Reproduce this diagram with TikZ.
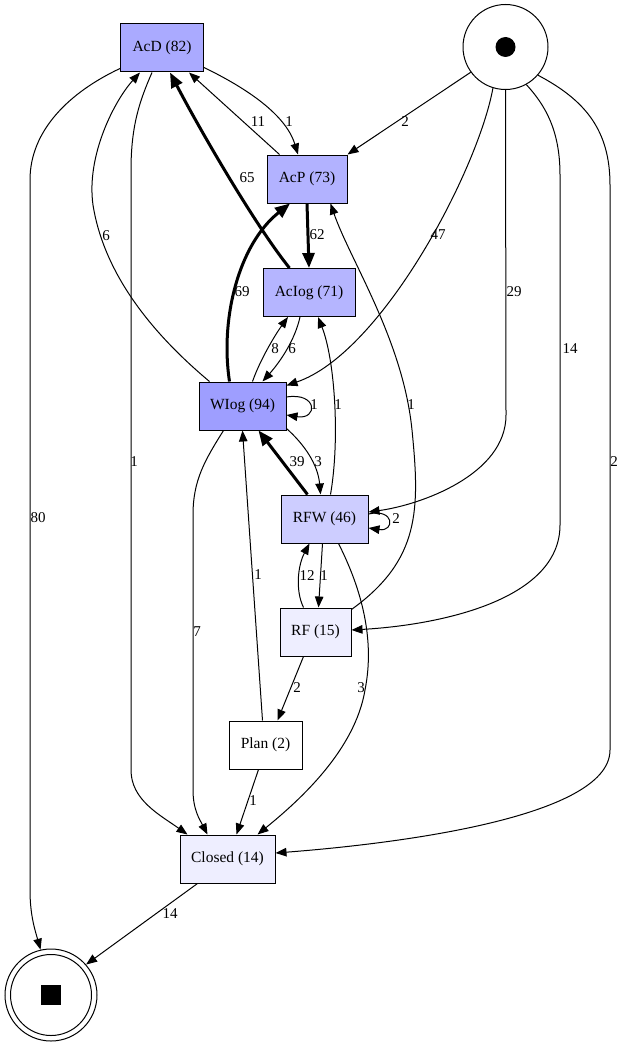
\documentclass[tikz,border=0pt]{standalone}
\usepackage{fontspec}
\setmainfont{Liberation Serif}
\usetikzlibrary{arrows.meta}
\definecolor{cAcD}{RGB}{170,170,255}
\definecolor{cAcP}{RGB}{178,178,255}
\definecolor{cAcIog}{RGB}{181,181,255}
\definecolor{cWIog}{RGB}{158,158,255}
\definecolor{cRFW}{RGB}{205,205,255}
\definecolor{cRF}{RGB}{238,238,255}
\definecolor{cClosed}{RGB}{238,238,255}
\begin{document}
\begin{tikzpicture}[x=1pt,y=-1pt,
  every node/.style={font=\fontsize{15.5}{18}\selectfont},
  act/.style={draw, rectangle, line width=1pt, inner sep=0pt, minimum height=48pt},
  flow/.style={line width=1pt, -{Triangle[length=11pt,width=8.5pt]}},
  heavyflow/.style={line width=3pt, -{Triangle[length=15pt,width=12pt]}},
  lab/.style={inner sep=0pt, font=\fontsize{15}{18}\selectfont},
]
\useasboundingbox (0,0) rectangle (626,1046);

% activities
\node[act, fill=cAcD, minimum width=83pt] (acd) at (162,48) {AcD (82)};
\node[act, fill=cAcP, minimum width=80pt] (acp) at (307,179) {AcP (73)};
\node[act, fill=cAcIog, minimum width=92pt] (aciog) at (309,292.5) {AcIog (71)};
\node[act, fill=cWIog, minimum width=87pt] (wiog) at (242.5,406) {WIog (94)};
\node[act, fill=cRFW, minimum width=87pt] (rfw) at (324.5,519) {RFW (46)};
\node[act, fill=cRF, minimum width=71pt] (rf) at (315.5,632) {RF (15)};
\node[act, fill=white, minimum width=73pt] (plan) at (265.5,745) {Plan (2)};
\node[act, fill=cClosed, minimum width=95pt] (closed) at (227.5,859) {Closed (14)};

% start and end
\node[draw, circle, line width=1pt, minimum size=85pt, inner sep=0pt] (start) at (505.5,47) {};
\node[circle, fill=black, minimum size=20pt, inner sep=0pt] (startdot) at (start.center) {};
\node[draw, circle, line width=1pt, minimum size=92pt, inner sep=0pt] (end) at (51,995) {};
\node[draw, circle, line width=1pt, minimum size=81pt, inner sep=0pt] (endring) at (end.center) {};
\node[rectangle, fill=black, minimum size=20pt, inner sep=0pt] (endmark) at (end.center) {};

% connectors
\draw[flow] ([yshift=4pt]acd.south west) .. controls (70,92) and (30,130) .. (30,180)
  -- (30,890) .. controls (30,915) and (35,930) .. (end.103);
\draw[flow] ([xshift=-10pt]acd.south) .. controls (140,100) and (131,125) .. (131,170)
  -- (131,770) .. controls (131,800) and (160,815) .. ([xshift=8pt]closed.north west);
\draw[flow] ([yshift=5pt]acd.south east) .. controls (240,85) and (285,112) .. ([xshift=-9pt]acp.north);
\draw[flow] ([xshift=13pt]acp.north west) -- ([xshift=-15pt]acd.south east);
\draw[heavyflow] ([xshift=27pt]aciog.north west) .. controls (255,225) and (200,130) .. ([xshift=8pt]acd.south);
\draw[flow] ([xshift=11pt]wiog.north west) .. controls (160,340) and (105,280) .. (93,205)
  .. controls (86,155) and (115,100) .. ([xshift=-22pt]acd.south);
\draw[heavyflow] ([xshift=-13pt]wiog.north) .. controls (220,320) and (238,245) .. ([xshift=-17pt]acp.south);
\draw[heavyflow] (acp.south) -- (aciog.north);
\draw[flow] ([xshift=10pt]wiog.north) .. controls (260,360) and (275,335) .. ([xshift=-21pt]aciog.south);
\draw[flow] ([xshift=-9pt]aciog.south) .. controls (295,340) and (280,362) .. ([xshift=20pt]wiog.north);
\draw[flow] ([yshift=9pt]wiog.east) .. controls (318,392) and (318,420) .. ([yshift=-9pt]wiog.east);
\draw[flow] (start.216) -- (acp.north east);
\draw[flow] (start.253) .. controls (478,170) and (382,353) .. ([yshift=-4pt]wiog.north east);
\draw[flow] (start.south) -- (506,415) .. controls (506,475) and (420,505) .. ([yshift=7pt]rfw.east);
\draw[flow] (start.-61) .. controls (545,105) and (560,130) .. (560,175)
  -- (560,525) .. controls (560,600) and (440,625) .. ([yshift=2pt]rf.east);
\draw[flow] (start.-41) .. controls (585,100) and (610,130) .. (610,185)
  -- (610,750) .. controls (610,820) and (380,845) .. ([yshift=6pt]closed.east);
\draw[flow] ([xshift=6pt]rfw.north) .. controls (340,440) and (335,360) .. ([xshift=9pt]aciog.south);
\draw[flow] ([yshift=-2pt]rf.north east) .. controls (420,560) and (420,510) .. (412,430)
  .. controls (403,340) and (350,260) .. ([xshift=-17pt]acp.south east);
\draw[heavyflow] ([xshift=-17pt]rfw.north) -- ([xshift=16pt]wiog.south);
\draw[flow] ([yshift=2pt]wiog.south east) .. controls (305,445) and (318,465) .. ([xshift=-4pt]rfw.north);
\draw[flow] ([yshift=5pt]rfw.east) .. controls (395,508) and (395,532) .. ([yshift=-9pt]rfw.east);
\draw[flow] ([xshift=-2pt]rfw.south) -- ([xshift=3pt]rf.north);
\draw[flow] ([xshift=-12pt]rf.north) .. controls (295,590) and (298,565) .. ([xshift=-15pt]rfw.south);
\draw[flow] ([xshift=-12pt]rf.south) -- ([xshift=12pt]plan.north);
\draw[flow] ([xshift=-3pt]plan.north) -- (wiog.south);
\draw[flow] ([xshift=-19pt]wiog.south) .. controls (205,460) and (193,480) .. (193,515)
  -- (193,790) .. controls (193,810) and (200,820) .. ([xshift=-20pt]closed.north);
\draw[flow] ([xshift=14pt]rfw.south) .. controls (362,590) and (375,640) .. (365,690)
  .. controls (355,750) and (300,800) .. ([xshift=30pt]closed.north);
\draw[flow] ([xshift=-7pt]plan.south) -- ([xshift=9pt]closed.north);
\draw[flow] ([xshift=18pt]closed.south west) -- (end.41);

% frequencies
\node[lab] (f80) at (38,518) {80};
\node[lab] (fdc) at (134,462) {1};
\node[lab] (fdp) at (289,122) {1};
\node[lab] (fpd) at (258,122) {11};
\node[lab] (fid) at (247,178) {65};
\node[lab] (fwd) at (106,236) {6};
\node[lab] (fwp) at (242,292) {69};
\node[lab] (fpi) at (317,235) {62};
\node[lab] (fwi) at (275,349) {8};
\node[lab] (fiw) at (292,349) {6};
\node[lab] (fww) at (314,405) {1};
\node[lab] (fsp) at (405,122) {2};
\node[lab] (fsw) at (438,235) {47};
\node[lab] (fsr) at (514,292) {29};
\node[lab] (fsf) at (570,349) {14};
\node[lab] (fsc) at (614,462) {2};
\node[lab] (fri) at (338,405) {1};
\node[lab] (ffp) at (411,405) {1};
\node[lab] (frw) at (297,462) {39};
\node[lab] (fwr) at (318,462) {3};
\node[lab] (frr) at (396,519) {2};
\node[lab] (frf) at (324,576) {1};
\node[lab] (ffr) at (307,576) {12};
\node[lab] (ffl) at (297,688) {2};
\node[lab] (flw) at (258,575) {1};
\node[lab] (fwc) at (197,632) {7};
\node[lab] (frc) at (361,688) {3};
\node[lab] (flc) at (253,801) {1};
\node[lab] (fce) at (170,914) {14};
\end{tikzpicture}
\end{document}
